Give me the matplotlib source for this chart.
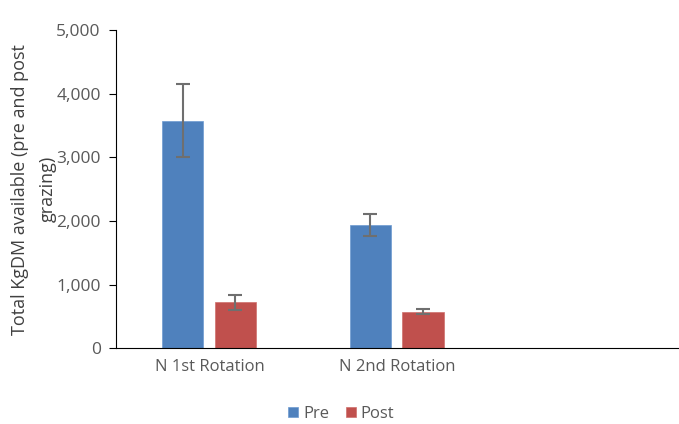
import matplotlib
matplotlib.use('Agg')
import matplotlib.pyplot as plt
import numpy as np

# data
categories = ['N 1st Rotation', 'N 2nd Rotation', '']
pre_values = [3575, 1935, 0]
pre_errors = [575, 175, 0]
post_values = [722, 570, 0]
post_errors = [120, 38, 0]

plt.rcParams['font.family'] = ['Open Sans', 'DejaVu Sans']

fig = plt.figure(figsize=(6.79, 4.24), dpi=100)
ax = fig.add_axes([0.171, 0.179, 0.829, 0.75])

x = np.arange(len(categories))
width = 0.22
err_kw = dict(ecolor='#6f6f6f', elinewidth=1.5, capsize=5, capthick=1.5)

# only draw the filled categories
n = 2
ax.bar(x[:n] - 0.145, pre_values[:n], width, yerr=pre_errors[:n], color='#4F81BD',
       edgecolor='#6d9bd1', linewidth=0.5, label='Pre', error_kw=err_kw)
ax.bar(x[:n] + 0.135, post_values[:n], width, yerr=post_errors[:n], color='#C0504D',
       edgecolor='#cf6f6c', linewidth=0.5, label='Post', error_kw=err_kw)

ax.set_xlim(-0.5, 2.5)
ax.set_ylim(0, 5000)
ax.set_yticks(np.arange(0, 5001, 1000))
ax.yaxis.set_major_formatter(matplotlib.ticker.FuncFormatter(lambda v, p: f'{int(v):,}'))
ax.set_xticks(x)
ax.set_xticklabels(categories)

ax.spines['top'].set_visible(False)
ax.spines['right'].set_visible(False)
ax.spines['left'].set_color('#000000')
ax.spines['bottom'].set_color('#000000')
ax.tick_params(axis='y', colors='#000000', labelcolor='#595959', labelsize=12.5, length=5,
               direction='out', pad=6)
ax.tick_params(axis='x', length=0, labelcolor='#595959', labelsize=12, pad=8)

ax.set_ylabel('Total KgDM available (pre and post\ngrazing)', fontsize=13, color='#404040',
              labelpad=0, linespacing=1.7)

ax.legend(loc='upper center', bbox_to_anchor=(0.40, -0.135), ncol=2, frameon=False,
          fontsize=12, handlelength=0.6, handleheight=0.6, columnspacing=1.0,
          handletextpad=0.3, labelcolor='#595959')

fig.savefig('out.png', dpi=100)
